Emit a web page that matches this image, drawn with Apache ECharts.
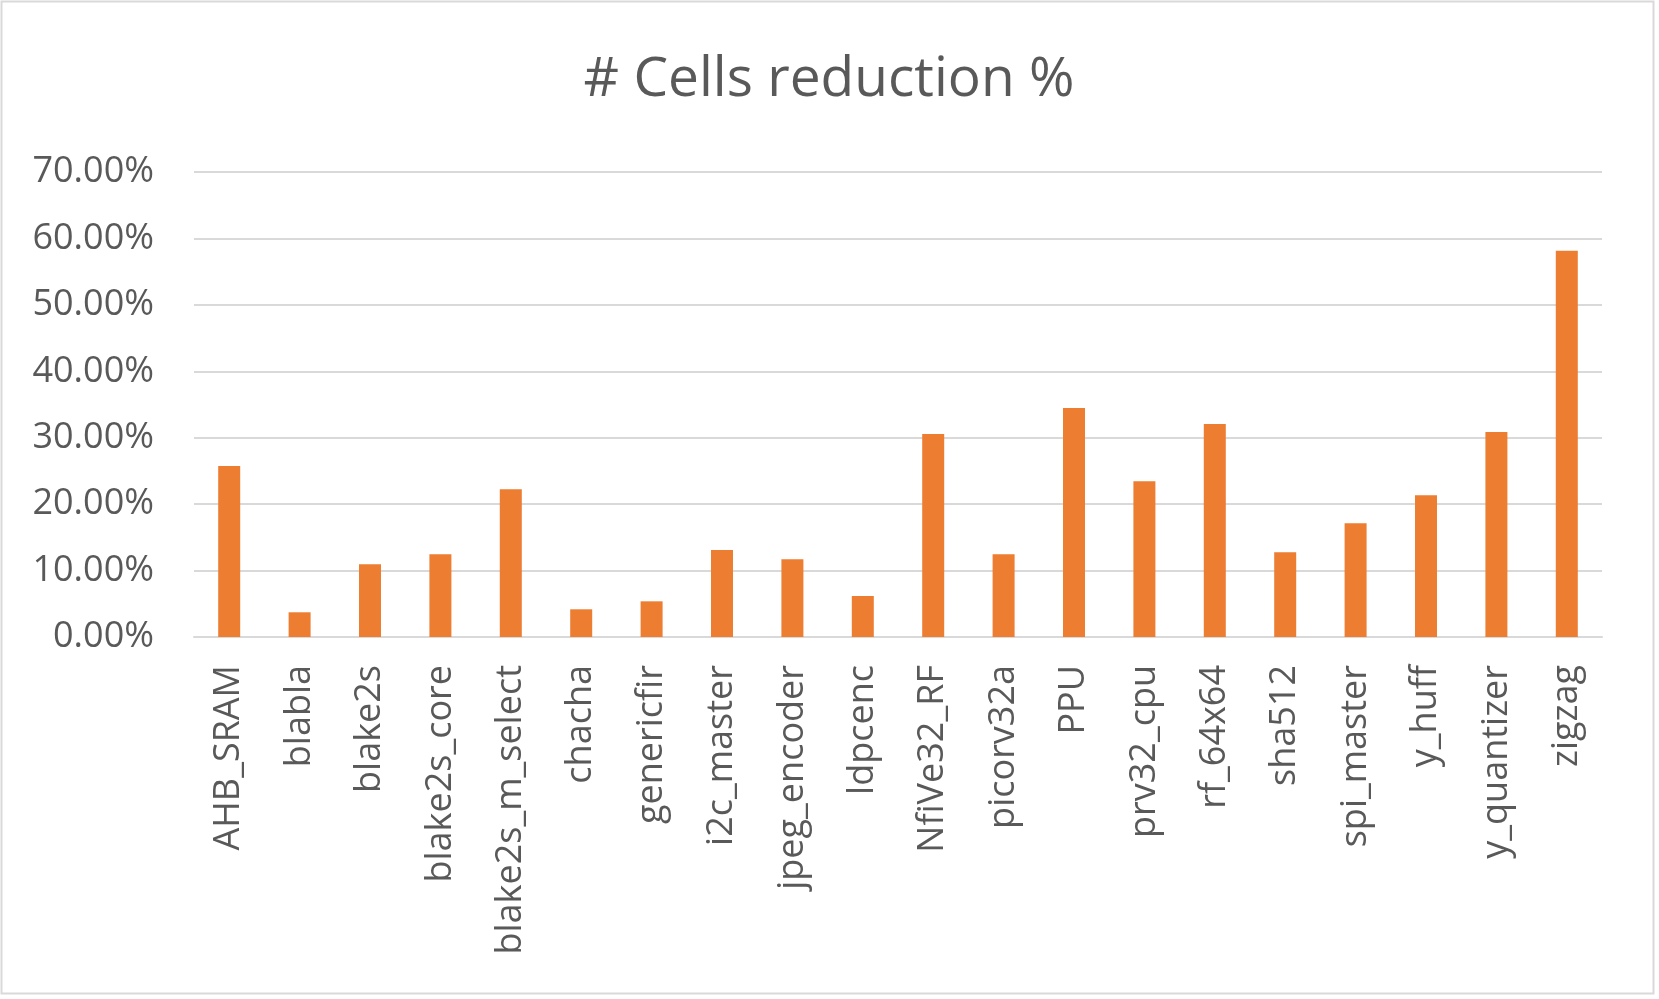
<!DOCTYPE html>
<html>
<head>
<meta charset="utf-8">
<script src="https://cdn.jsdelivr.net/npm/echarts@6/dist/echarts.min.js"></script>
<style>
html,body{margin:0;padding:0;background:#fff;}
#chart{width:1659px;height:999px;}
</style>
</head>
<body>
<div id="chart"></div>
<script>
const categories = ["AHB_SRAM","blabla","blake2s","blake2s_core","blake2s_m_select","chacha","genericfir","i2c_master","jpeg_encoder","ldpcenc","NfiVe32_RF","picorv32a","PPU","prv32_cpu","rf_64x64","sha512","spi_master","y_huff","y_quantizer","zigzag"];
const reductionPct = [25.75,3.72,10.95,12.45,22.24,4.17,5.37,13.1,11.7,6.17,30.57,12.45,34.49,23.45,32.08,12.75,17.12,21.34,30.87,58.13];
const yTicks = [0,10,20,30,40,50,60,70];

const textColor = '#595959';
const font = '"Open Sans", sans-serif';
const chart = echarts.init(document.getElementById('chart'));
chart.setOption({
  animation: false,
  backgroundColor: '#ffffff',
  title: {
    text: '# Cells reduction %',
    left: 824, top: 48,
    textAlign: 'center',
    textStyle: {color: textColor, fontFamily: font, fontSize: 55, fontWeight: 'normal'}
  },
  graphic: [{
    type: 'rect', silent: true,
    shape: {x: 1.5, y: 1.5, width: 1652, height: 992},
    style: {fill: 'none', stroke: '#d9d9d9', lineWidth: 2}
  }],
  grid: {left: 194, right: 57, top: 172, bottom: 362, containLabel: false},
  xAxis: {
    type: 'category',
    data: categories,
    axisLine: {show: true, lineStyle: {color: '#d9d9d9', width: 2}},
    axisTick: {show: false},
    axisLabel: {rotate: 90, margin: 28, interval: 0, color: textColor, fontFamily: font, fontSize: 36}
  },
  yAxis: {
    type: 'value',
    min: yTicks[0], max: yTicks[yTicks.length-1], interval: 10,
    axisLine: {show: false},
    axisTick: {show: false},
    splitLine: {lineStyle: {color: '#d9d9d9', width: 2}},
    axisLabel: {margin: 40, color: textColor, fontFamily: font, fontSize: 36,
      formatter: v => v.toFixed(2) + '%'}
  },
  series: [{
    type: 'bar',
    data: reductionPct,
    barWidth: 22,
    itemStyle: {color: '#ED7D31'}
  }]
});
</script>
</body>
</html>
